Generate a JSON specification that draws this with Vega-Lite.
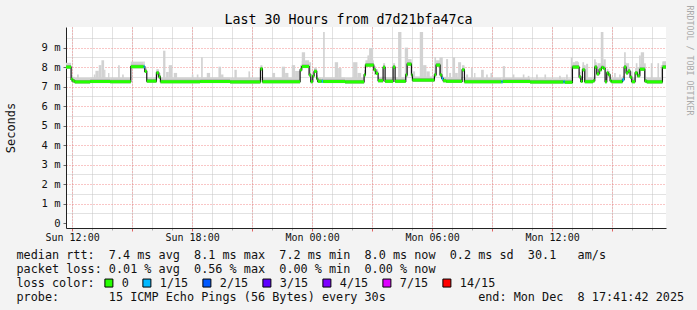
{
 "$schema": "https://vega.github.io/schema/vega-lite/v6.json",
 "width": 600, "height": 201,
 "autosize": "none",
 "padding": {"left": 66, "top": 27, "right": 31, "bottom": 82},
 "background": "#f3f3f3",
 "config": {
  "font": "DejaVu Sans Mono",
  "view": {"fill": "#ffffff", "stroke": null},
  "axis": {"labelFont": "DejaVu Sans Mono", "titleFont": "DejaVu Sans Mono", "titleFontWeight": "normal"}
 },
 "datasets": {
  "seg": [
   {"s": "2025-12-07T11:41:42Z", "e": "2025-12-07T11:57:00Z", "v": 8.0, "l": 7.92, "d": 8.1, "h": 8.22, "loss": "0"},
   {"s": "2025-12-07T11:57:00Z", "e": "2025-12-07T12:02:00Z", "v": 7.37, "l": 7.25, "d": 7.47, "h": 7.6, "loss": "0"},
   {"s": "2025-12-07T12:02:00Z", "e": "2025-12-07T12:08:00Z", "v": 7.29, "l": 7.21, "d": 7.39, "h": 7.5, "loss": "0"},
   {"s": "2025-12-07T12:08:00Z", "e": "2025-12-07T12:54:00Z", "v": 7.24, "l": 7.16, "d": 7.34, "h": 7.45, "loss": "0"},
   {"s": "2025-12-07T12:54:00Z", "e": "2025-12-07T13:54:00Z", "v": 7.26, "l": 7.18, "d": 7.36, "h": 7.47, "loss": "0"},
   {"s": "2025-12-07T13:54:00Z", "e": "2025-12-07T14:56:00Z", "v": 7.25, "l": 7.17, "d": 7.35, "h": 7.46, "loss": "0"},
   {"s": "2025-12-07T14:56:00Z", "e": "2025-12-07T15:35:00Z", "v": 8.02, "l": 7.94, "d": 8.12, "h": 8.28, "loss": "0"},
   {"s": "2025-12-07T15:35:00Z", "e": "2025-12-07T15:38:00Z", "v": 8.02, "l": 7.94, "d": 8.12, "h": 8.28, "loss": "1/15"},
   {"s": "2025-12-07T15:38:00Z", "e": "2025-12-07T15:44:00Z", "v": 7.78, "l": 7.7, "d": 7.88, "h": 8.0, "loss": "0"},
   {"s": "2025-12-07T15:44:00Z", "e": "2025-12-07T16:13:00Z", "v": 7.28, "l": 7.2, "d": 7.38, "h": 7.48, "loss": "0"},
   {"s": "2025-12-07T16:13:00Z", "e": "2025-12-07T16:20:00Z", "v": 7.7, "l": 7.6, "d": 7.8, "h": 7.9, "loss": "0"},
   {"s": "2025-12-07T16:20:00Z", "e": "2025-12-07T16:25:00Z", "v": 7.5, "l": 7.4, "d": 7.6, "h": 7.7, "loss": "0"},
   {"s": "2025-12-07T16:25:00Z", "e": "2025-12-07T18:24:00Z", "v": 7.25, "l": 7.17, "d": 7.35, "h": 7.46, "loss": "0"},
   {"s": "2025-12-07T18:24:00Z", "e": "2025-12-07T19:54:00Z", "v": 7.26, "l": 7.18, "d": 7.36, "h": 7.47, "loss": "0"},
   {"s": "2025-12-07T19:54:00Z", "e": "2025-12-07T21:25:00Z", "v": 7.24, "l": 7.16, "d": 7.34, "h": 7.45, "loss": "0"},
   {"s": "2025-12-07T21:25:00Z", "e": "2025-12-07T21:31:00Z", "v": 7.91, "l": 7.83, "d": 8.01, "h": 8.1, "loss": "0"},
   {"s": "2025-12-07T21:31:00Z", "e": "2025-12-07T23:24:00Z", "v": 7.25, "l": 7.17, "d": 7.35, "h": 7.46, "loss": "0"},
   {"s": "2025-12-07T23:24:00Z", "e": "2025-12-07T23:29:00Z", "v": 7.86, "l": 7.78, "d": 7.96, "h": 8.1, "loss": "0"},
   {"s": "2025-12-07T23:29:00Z", "e": "2025-12-07T23:51:00Z", "v": 8.03, "l": 7.95, "d": 8.13, "h": 8.3, "loss": "0"},
   {"s": "2025-12-07T23:51:00Z", "e": "2025-12-07T23:56:00Z", "v": 7.6, "l": 7.52, "d": 7.7, "h": 7.85, "loss": "0"},
   {"s": "2025-12-07T23:56:00Z", "e": "2025-12-08T00:02:00Z", "v": 7.25, "l": 7.17, "d": 7.35, "h": 7.5, "loss": "0"},
   {"s": "2025-12-08T00:02:00Z", "e": "2025-12-08T00:06:00Z", "v": 7.55, "l": 7.47, "d": 7.65, "h": 7.75, "loss": "0"},
   {"s": "2025-12-08T00:06:00Z", "e": "2025-12-08T00:14:00Z", "v": 7.78, "l": 7.7, "d": 7.88, "h": 7.98, "loss": "0"},
   {"s": "2025-12-08T00:14:00Z", "e": "2025-12-08T00:17:00Z", "v": 7.4, "l": 7.32, "d": 7.5, "h": 7.6, "loss": "0"},
   {"s": "2025-12-08T00:17:00Z", "e": "2025-12-08T00:29:00Z", "v": 7.27, "l": 7.19, "d": 7.37, "h": 7.47, "loss": "0"},
   {"s": "2025-12-08T00:29:00Z", "e": "2025-12-08T00:33:00Z", "v": 7.27, "l": 7.19, "d": 7.37, "h": 7.47, "loss": "1/15"},
   {"s": "2025-12-08T00:33:00Z", "e": "2025-12-08T01:39:00Z", "v": 7.26, "l": 7.18, "d": 7.36, "h": 7.47, "loss": "0"},
   {"s": "2025-12-08T01:39:00Z", "e": "2025-12-08T02:36:00Z", "v": 7.24, "l": 7.16, "d": 7.34, "h": 7.45, "loss": "0"},
   {"s": "2025-12-08T02:36:00Z", "e": "2025-12-08T02:40:00Z", "v": 7.6, "l": 7.52, "d": 7.7, "h": 7.85, "loss": "0"},
   {"s": "2025-12-08T02:40:00Z", "e": "2025-12-08T03:05:00Z", "v": 8.1, "l": 8.02, "d": 8.2, "h": 8.35, "loss": "0"},
   {"s": "2025-12-08T03:05:00Z", "e": "2025-12-08T03:11:00Z", "v": 7.86, "l": 7.78, "d": 7.96, "h": 8.05, "loss": "0"},
   {"s": "2025-12-08T03:11:00Z", "e": "2025-12-08T03:18:00Z", "v": 7.68, "l": 7.6, "d": 7.78, "h": 7.88, "loss": "0"},
   {"s": "2025-12-08T03:18:00Z", "e": "2025-12-08T03:33:00Z", "v": 7.3, "l": 7.22, "d": 7.4, "h": 7.5, "loss": "0"},
   {"s": "2025-12-08T03:33:00Z", "e": "2025-12-08T03:39:00Z", "v": 7.99, "l": 7.91, "d": 8.09, "h": 8.2, "loss": "0"},
   {"s": "2025-12-08T03:39:00Z", "e": "2025-12-08T04:03:00Z", "v": 7.27, "l": 7.19, "d": 7.37, "h": 7.48, "loss": "0"},
   {"s": "2025-12-08T04:03:00Z", "e": "2025-12-08T04:09:00Z", "v": 8.0, "l": 7.92, "d": 8.1, "h": 8.2, "loss": "0"},
   {"s": "2025-12-08T04:09:00Z", "e": "2025-12-08T04:41:00Z", "v": 7.27, "l": 7.19, "d": 7.37, "h": 7.48, "loss": "0"},
   {"s": "2025-12-08T04:41:00Z", "e": "2025-12-08T04:45:00Z", "v": 7.6, "l": 7.52, "d": 7.7, "h": 7.85, "loss": "0"},
   {"s": "2025-12-08T04:45:00Z", "e": "2025-12-08T04:58:00Z", "v": 8.15, "l": 8.07, "d": 8.25, "h": 8.4, "loss": "0"},
   {"s": "2025-12-08T04:58:00Z", "e": "2025-12-08T05:01:00Z", "v": 7.6, "l": 7.52, "d": 7.7, "h": 7.85, "loss": "0"},
   {"s": "2025-12-08T05:01:00Z", "e": "2025-12-08T06:07:00Z", "v": 7.33, "l": 7.25, "d": 7.43, "h": 7.52, "loss": "0"},
   {"s": "2025-12-08T06:07:00Z", "e": "2025-12-08T06:12:00Z", "v": 7.6, "l": 7.52, "d": 7.7, "h": 7.85, "loss": "0"},
   {"s": "2025-12-08T06:12:00Z", "e": "2025-12-08T06:24:00Z", "v": 8.1, "l": 8.02, "d": 8.2, "h": 8.35, "loss": "0"},
   {"s": "2025-12-08T06:24:00Z", "e": "2025-12-08T06:29:00Z", "v": 7.6, "l": 7.52, "d": 7.7, "h": 7.85, "loss": "0"},
   {"s": "2025-12-08T06:29:00Z", "e": "2025-12-08T06:33:00Z", "v": 7.42, "l": 7.34, "d": 7.52, "h": 7.62, "loss": "1/15"},
   {"s": "2025-12-08T06:33:00Z", "e": "2025-12-08T06:42:00Z", "v": 7.3, "l": 7.22, "d": 7.4, "h": 7.5, "loss": "0"},
   {"s": "2025-12-08T06:42:00Z", "e": "2025-12-08T07:30:00Z", "v": 7.27, "l": 7.19, "d": 7.37, "h": 7.48, "loss": "0"},
   {"s": "2025-12-08T07:30:00Z", "e": "2025-12-08T07:37:00Z", "v": 7.86, "l": 7.78, "d": 7.96, "h": 8.05, "loss": "0"},
   {"s": "2025-12-08T07:37:00Z", "e": "2025-12-08T09:28:00Z", "v": 7.25, "l": 7.17, "d": 7.35, "h": 7.45, "loss": "0"},
   {"s": "2025-12-08T09:28:00Z", "e": "2025-12-08T09:32:00Z", "v": 7.25, "l": 7.17, "d": 7.35, "h": 7.45, "loss": "1/15"},
   {"s": "2025-12-08T09:32:00Z", "e": "2025-12-08T10:54:00Z", "v": 7.26, "l": 7.18, "d": 7.36, "h": 7.45, "loss": "0"},
   {"s": "2025-12-08T10:54:00Z", "e": "2025-12-08T12:34:00Z", "v": 7.24, "l": 7.16, "d": 7.34, "h": 7.43, "loss": "0"},
   {"s": "2025-12-08T12:34:00Z", "e": "2025-12-08T12:38:00Z", "v": 7.25, "l": 7.17, "d": 7.35, "h": 7.45, "loss": "1/15"},
   {"s": "2025-12-08T12:38:00Z", "e": "2025-12-08T13:01:00Z", "v": 7.22, "l": 7.14, "d": 7.32, "h": 7.42, "loss": "0"},
   {"s": "2025-12-08T13:01:00Z", "e": "2025-12-08T13:21:00Z", "v": 8.0, "l": 7.92, "d": 8.1, "h": 8.25, "loss": "0"},
   {"s": "2025-12-08T13:21:00Z", "e": "2025-12-08T13:26:00Z", "v": 7.5, "l": 7.42, "d": 7.6, "h": 7.75, "loss": "0"},
   {"s": "2025-12-08T13:26:00Z", "e": "2025-12-08T13:31:00Z", "v": 7.27, "l": 7.19, "d": 7.37, "h": 7.5, "loss": "0"},
   {"s": "2025-12-08T13:31:00Z", "e": "2025-12-08T13:38:00Z", "v": 7.86, "l": 7.78, "d": 7.96, "h": 8.1, "loss": "0"},
   {"s": "2025-12-08T13:38:00Z", "e": "2025-12-08T14:03:00Z", "v": 7.25, "l": 7.17, "d": 7.35, "h": 7.47, "loss": "0"},
   {"s": "2025-12-08T14:03:00Z", "e": "2025-12-08T14:08:00Z", "v": 7.3, "l": 7.22, "d": 7.4, "h": 7.5, "loss": "0"},
   {"s": "2025-12-08T14:08:00Z", "e": "2025-12-08T14:14:00Z", "v": 8.0, "l": 7.92, "d": 8.1, "h": 8.25, "loss": "0"},
   {"s": "2025-12-08T14:14:00Z", "e": "2025-12-08T14:21:00Z", "v": 7.65, "l": 7.57, "d": 7.75, "h": 7.9, "loss": "0"},
   {"s": "2025-12-08T14:21:00Z", "e": "2025-12-08T14:28:00Z", "v": 7.86, "l": 7.78, "d": 7.96, "h": 8.1, "loss": "0"},
   {"s": "2025-12-08T14:28:00Z", "e": "2025-12-08T14:34:00Z", "v": 7.98, "l": 7.9, "d": 8.08, "h": 8.2, "loss": "0"},
   {"s": "2025-12-08T14:34:00Z", "e": "2025-12-08T14:39:00Z", "v": 7.93, "l": 7.85, "d": 8.03, "h": 8.15, "loss": "0"},
   {"s": "2025-12-08T14:39:00Z", "e": "2025-12-08T14:44:00Z", "v": 7.25, "l": 7.17, "d": 7.35, "h": 7.47, "loss": "0"},
   {"s": "2025-12-08T14:44:00Z", "e": "2025-12-08T14:49:00Z", "v": 7.7, "l": 7.62, "d": 7.8, "h": 7.9, "loss": "0"},
   {"s": "2025-12-08T14:49:00Z", "e": "2025-12-08T14:54:00Z", "v": 7.6, "l": 7.52, "d": 7.7, "h": 7.8, "loss": "0"},
   {"s": "2025-12-08T14:54:00Z", "e": "2025-12-08T14:58:00Z", "v": 7.3, "l": 7.22, "d": 7.4, "h": 7.5, "loss": "0"},
   {"s": "2025-12-08T14:58:00Z", "e": "2025-12-08T15:31:00Z", "v": 7.25, "l": 7.17, "d": 7.35, "h": 7.46, "loss": "0"},
   {"s": "2025-12-08T15:31:00Z", "e": "2025-12-08T15:36:00Z", "v": 7.35, "l": 7.27, "d": 7.45, "h": 7.55, "loss": "1/15"},
   {"s": "2025-12-08T15:36:00Z", "e": "2025-12-08T15:42:00Z", "v": 8.0, "l": 7.92, "d": 8.1, "h": 8.25, "loss": "0"},
   {"s": "2025-12-08T15:42:00Z", "e": "2025-12-08T15:48:00Z", "v": 7.7, "l": 7.62, "d": 7.8, "h": 7.95, "loss": "0"},
   {"s": "2025-12-08T15:48:00Z", "e": "2025-12-08T15:54:00Z", "v": 7.8, "l": 7.72, "d": 7.9, "h": 8.0, "loss": "0"},
   {"s": "2025-12-08T15:54:00Z", "e": "2025-12-08T15:59:00Z", "v": 7.48, "l": 7.4, "d": 7.58, "h": 7.7, "loss": "0"},
   {"s": "2025-12-08T15:59:00Z", "e": "2025-12-08T16:09:00Z", "v": 7.25, "l": 7.17, "d": 7.35, "h": 7.46, "loss": "0"},
   {"s": "2025-12-08T16:09:00Z", "e": "2025-12-08T16:16:00Z", "v": 7.7, "l": 7.62, "d": 7.8, "h": 7.95, "loss": "0"},
   {"s": "2025-12-08T16:16:00Z", "e": "2025-12-08T16:23:00Z", "v": 7.55, "l": 7.47, "d": 7.65, "h": 7.8, "loss": "0"},
   {"s": "2025-12-08T16:23:00Z", "e": "2025-12-08T16:38:00Z", "v": 7.89, "l": 7.81, "d": 7.99, "h": 8.15, "loss": "0"},
   {"s": "2025-12-08T16:38:00Z", "e": "2025-12-08T16:44:00Z", "v": 7.28, "l": 7.2, "d": 7.38, "h": 7.5, "loss": "0"},
   {"s": "2025-12-08T16:44:00Z", "e": "2025-12-08T17:31:00Z", "v": 7.24, "l": 7.16, "d": 7.34, "h": 7.46, "loss": "0"},
   {"s": "2025-12-08T17:31:00Z", "e": "2025-12-08T17:41:42Z", "v": 8.0, "l": 7.92, "d": 8.1, "h": 8.25, "loss": "0"}
  ],
  "spk": [
   {"s": "2025-12-07T12:15:00Z", "e": "2025-12-07T12:20:00Z", "lo": 7.25, "hi": 7.62},
   {"s": "2025-12-07T13:05:00Z", "e": "2025-12-07T13:10:00Z", "lo": 7.25, "hi": 7.62},
   {"s": "2025-12-07T13:10:00Z", "e": "2025-12-07T13:20:00Z", "lo": 7.25, "hi": 7.81},
   {"s": "2025-12-07T13:20:00Z", "e": "2025-12-07T13:28:00Z", "lo": 7.25, "hi": 8.1},
   {"s": "2025-12-07T13:28:00Z", "e": "2025-12-07T13:36:00Z", "lo": 7.25, "hi": 8.35},
   {"s": "2025-12-07T13:36:00Z", "e": "2025-12-07T13:40:00Z", "lo": 7.25, "hi": 7.86},
   {"s": "2025-12-07T13:48:00Z", "e": "2025-12-07T13:52:00Z", "lo": 7.25, "hi": 7.7},
   {"s": "2025-12-07T14:18:00Z", "e": "2025-12-07T14:23:00Z", "lo": 7.25, "hi": 8.1},
   {"s": "2025-12-07T14:30:00Z", "e": "2025-12-07T14:35:00Z", "lo": 7.25, "hi": 7.62},
   {"s": "2025-12-07T16:13:00Z", "e": "2025-12-07T16:21:00Z", "lo": 7.5, "hi": 7.85},
   {"s": "2025-12-07T16:33:00Z", "e": "2025-12-07T16:40:00Z", "lo": 7.25, "hi": 8.84},
   {"s": "2025-12-07T16:42:00Z", "e": "2025-12-07T16:50:00Z", "lo": 7.25, "hi": 7.75},
   {"s": "2025-12-07T16:50:00Z", "e": "2025-12-07T17:00:00Z", "lo": 7.25, "hi": 8.1},
   {"s": "2025-12-07T17:05:00Z", "e": "2025-12-07T17:15:00Z", "lo": 7.25, "hi": 7.7},
   {"s": "2025-12-07T17:59:00Z", "e": "2025-12-07T18:04:00Z", "lo": 7.25, "hi": 7.62},
   {"s": "2025-12-07T18:14:00Z", "e": "2025-12-07T18:19:00Z", "lo": 7.25, "hi": 7.62},
   {"s": "2025-12-07T18:27:00Z", "e": "2025-12-07T18:32:00Z", "lo": 7.25, "hi": 8.51},
   {"s": "2025-12-07T18:44:00Z", "e": "2025-12-07T18:54:00Z", "lo": 7.25, "hi": 7.7},
   {"s": "2025-12-07T19:19:00Z", "e": "2025-12-07T19:27:00Z", "lo": 7.25, "hi": 8.02},
   {"s": "2025-12-07T19:27:00Z", "e": "2025-12-07T19:34:00Z", "lo": 7.25, "hi": 7.62},
   {"s": "2025-12-07T20:07:00Z", "e": "2025-12-07T20:14:00Z", "lo": 7.25, "hi": 7.86},
   {"s": "2025-12-07T20:49:00Z", "e": "2025-12-07T20:54:00Z", "lo": 7.25, "hi": 7.78},
   {"s": "2025-12-07T22:01:00Z", "e": "2025-12-07T22:09:00Z", "lo": 7.25, "hi": 7.7},
   {"s": "2025-12-07T22:29:00Z", "e": "2025-12-07T22:39:00Z", "lo": 7.25, "hi": 8.02},
   {"s": "2025-12-07T22:39:00Z", "e": "2025-12-07T22:49:00Z", "lo": 7.25, "hi": 7.7},
   {"s": "2025-12-07T22:59:00Z", "e": "2025-12-07T23:09:00Z", "lo": 7.25, "hi": 8.1},
   {"s": "2025-12-07T23:09:00Z", "e": "2025-12-07T23:24:00Z", "lo": 7.25, "hi": 7.8},
   {"s": "2025-12-07T23:29:00Z", "e": "2025-12-07T23:39:00Z", "lo": 8.0, "hi": 8.76},
   {"s": "2025-12-07T23:39:00Z", "e": "2025-12-07T23:51:00Z", "lo": 8.0, "hi": 8.35},
   {"s": "2025-12-07T23:51:00Z", "e": "2025-12-07T23:57:00Z", "lo": 7.6, "hi": 8.25},
   {"s": "2025-12-08T00:33:00Z", "e": "2025-12-08T00:38:00Z", "lo": 7.25, "hi": 9.8},
   {"s": "2025-12-08T01:08:00Z", "e": "2025-12-08T01:18:00Z", "lo": 7.25, "hi": 8.25},
   {"s": "2025-12-08T01:18:00Z", "e": "2025-12-08T01:28:00Z", "lo": 7.25, "hi": 7.95},
   {"s": "2025-12-08T02:03:00Z", "e": "2025-12-08T02:16:00Z", "lo": 7.25, "hi": 8.25},
   {"s": "2025-12-08T02:16:00Z", "e": "2025-12-08T02:27:00Z", "lo": 7.25, "hi": 7.7},
   {"s": "2025-12-08T02:46:00Z", "e": "2025-12-08T02:51:00Z", "lo": 8.1, "hi": 8.6},
   {"s": "2025-12-08T02:51:00Z", "e": "2025-12-08T03:03:00Z", "lo": 8.1, "hi": 8.98},
   {"s": "2025-12-08T03:06:00Z", "e": "2025-12-08T03:18:00Z", "lo": 7.6, "hi": 7.86},
   {"s": "2025-12-08T04:18:00Z", "e": "2025-12-08T04:28:00Z", "lo": 7.25, "hi": 9.8},
   {"s": "2025-12-08T04:38:00Z", "e": "2025-12-08T04:48:00Z", "lo": 7.5, "hi": 9.0},
   {"s": "2025-12-08T04:48:00Z", "e": "2025-12-08T04:58:00Z", "lo": 8.1, "hi": 8.4},
   {"s": "2025-12-08T05:03:00Z", "e": "2025-12-08T05:09:00Z", "lo": 7.3, "hi": 7.78},
   {"s": "2025-12-08T05:23:00Z", "e": "2025-12-08T05:33:00Z", "lo": 7.3, "hi": 9.8},
   {"s": "2025-12-08T05:33:00Z", "e": "2025-12-08T05:43:00Z", "lo": 7.3, "hi": 8.1},
   {"s": "2025-12-08T05:43:00Z", "e": "2025-12-08T05:53:00Z", "lo": 7.3, "hi": 7.78},
   {"s": "2025-12-08T06:07:00Z", "e": "2025-12-08T06:12:00Z", "lo": 7.6, "hi": 8.51},
   {"s": "2025-12-08T06:22:00Z", "e": "2025-12-08T06:32:00Z", "lo": 7.6, "hi": 8.5},
   {"s": "2025-12-08T06:42:00Z", "e": "2025-12-08T06:48:00Z", "lo": 7.25, "hi": 8.41},
   {"s": "2025-12-08T06:51:00Z", "e": "2025-12-08T06:57:00Z", "lo": 7.25, "hi": 7.7},
   {"s": "2025-12-08T07:02:00Z", "e": "2025-12-08T07:09:00Z", "lo": 7.25, "hi": 8.5},
   {"s": "2025-12-08T07:09:00Z", "e": "2025-12-08T07:17:00Z", "lo": 7.25, "hi": 7.7},
   {"s": "2025-12-08T07:18:00Z", "e": "2025-12-08T07:27:00Z", "lo": 7.25, "hi": 8.25},
   {"s": "2025-12-08T07:30:00Z", "e": "2025-12-08T07:37:00Z", "lo": 7.86, "hi": 8.1},
   {"s": "2025-12-08T07:42:00Z", "e": "2025-12-08T07:48:00Z", "lo": 7.25, "hi": 7.62},
   {"s": "2025-12-08T07:57:00Z", "e": "2025-12-08T08:02:00Z", "lo": 7.25, "hi": 7.95},
   {"s": "2025-12-08T08:06:00Z", "e": "2025-12-08T08:10:00Z", "lo": 7.25, "hi": 7.7},
   {"s": "2025-12-08T08:27:00Z", "e": "2025-12-08T08:35:00Z", "lo": 7.25, "hi": 7.86},
   {"s": "2025-12-08T08:42:00Z", "e": "2025-12-08T08:47:00Z", "lo": 7.25, "hi": 7.62},
   {"s": "2025-12-08T08:55:00Z", "e": "2025-12-08T09:00:00Z", "lo": 7.25, "hi": 7.7},
   {"s": "2025-12-08T09:32:00Z", "e": "2025-12-08T09:39:00Z", "lo": 7.25, "hi": 8.05},
   {"s": "2025-12-08T10:02:00Z", "e": "2025-12-08T10:07:00Z", "lo": 7.25, "hi": 7.62},
   {"s": "2025-12-08T10:32:00Z", "e": "2025-12-08T10:37:00Z", "lo": 7.25, "hi": 7.62},
   {"s": "2025-12-08T10:47:00Z", "e": "2025-12-08T10:52:00Z", "lo": 7.25, "hi": 7.55},
   {"s": "2025-12-08T11:12:00Z", "e": "2025-12-08T11:17:00Z", "lo": 7.25, "hi": 7.62},
   {"s": "2025-12-08T11:37:00Z", "e": "2025-12-08T11:42:00Z", "lo": 7.25, "hi": 7.62},
   {"s": "2025-12-08T12:21:00Z", "e": "2025-12-08T12:26:00Z", "lo": 7.25, "hi": 7.55},
   {"s": "2025-12-08T12:42:00Z", "e": "2025-12-08T12:47:00Z", "lo": 7.25, "hi": 7.62},
   {"s": "2025-12-08T12:56:00Z", "e": "2025-12-08T13:01:00Z", "lo": 7.25, "hi": 8.5},
   {"s": "2025-12-08T13:09:00Z", "e": "2025-12-08T13:18:00Z", "lo": 8.0, "hi": 8.3},
   {"s": "2025-12-08T13:31:00Z", "e": "2025-12-08T13:36:00Z", "lo": 7.86, "hi": 8.25},
   {"s": "2025-12-08T13:36:00Z", "e": "2025-12-08T13:41:00Z", "lo": 7.25, "hi": 8.1},
   {"s": "2025-12-08T13:42:00Z", "e": "2025-12-08T13:48:00Z", "lo": 7.25, "hi": 8.17},
   {"s": "2025-12-08T14:06:00Z", "e": "2025-12-08T14:11:00Z", "lo": 8.0, "hi": 8.4},
   {"s": "2025-12-08T14:16:00Z", "e": "2025-12-08T14:26:00Z", "lo": 7.65, "hi": 8.2},
   {"s": "2025-12-08T14:26:00Z", "e": "2025-12-08T14:34:00Z", "lo": 7.9, "hi": 9.8},
   {"s": "2025-12-08T14:34:00Z", "e": "2025-12-08T14:41:00Z", "lo": 7.9, "hi": 8.4},
   {"s": "2025-12-08T14:46:00Z", "e": "2025-12-08T14:51:00Z", "lo": 7.6, "hi": 7.78},
   {"s": "2025-12-08T15:06:00Z", "e": "2025-12-08T15:11:00Z", "lo": 7.25, "hi": 7.7},
   {"s": "2025-12-08T15:21:00Z", "e": "2025-12-08T15:26:00Z", "lo": 7.25, "hi": 7.62},
   {"s": "2025-12-08T15:36:00Z", "e": "2025-12-08T15:41:00Z", "lo": 8.0, "hi": 8.76},
   {"s": "2025-12-08T15:41:00Z", "e": "2025-12-08T15:51:00Z", "lo": 7.7, "hi": 8.2},
   {"s": "2025-12-08T15:56:00Z", "e": "2025-12-08T16:01:00Z", "lo": 7.25, "hi": 7.78},
   {"s": "2025-12-08T16:11:00Z", "e": "2025-12-08T16:16:00Z", "lo": 7.7, "hi": 8.2},
   {"s": "2025-12-08T16:16:00Z", "e": "2025-12-08T16:21:00Z", "lo": 7.55, "hi": 8.0},
   {"s": "2025-12-08T16:21:00Z", "e": "2025-12-08T16:26:00Z", "lo": 7.55, "hi": 8.6},
   {"s": "2025-12-08T16:26:00Z", "e": "2025-12-08T16:36:00Z", "lo": 7.89, "hi": 8.76},
   {"s": "2025-12-08T16:36:00Z", "e": "2025-12-08T16:41:00Z", "lo": 7.25, "hi": 8.2},
   {"s": "2025-12-08T16:56:00Z", "e": "2025-12-08T17:01:00Z", "lo": 7.25, "hi": 8.2},
   {"s": "2025-12-08T17:16:00Z", "e": "2025-12-08T17:21:00Z", "lo": 7.25, "hi": 8.2},
   {"s": "2025-12-08T17:26:00Z", "e": "2025-12-08T17:31:00Z", "lo": 7.25, "hi": 8.1},
   {"s": "2025-12-08T17:31:00Z", "e": "2025-12-08T17:41:42Z", "lo": 8.0, "hi": 8.3}
  ]
 },
 "layer": [
  {
   "data": {"name": "spk"},
   "mark": {"type": "rect", "color": "#d2d2d2", "clip": true},
   "encoding": {
    "x": {"field": "s", "type": "temporal",
     "scale": {"type": "utc", "domain": [{"year": 2025, "month": 12, "date": 7, "hours": 11, "minutes": 41, "seconds": 42, "utc": true}, {"year": 2025, "month": 12, "date": 8, "hours": 17, "minutes": 41, "seconds": 42, "utc": true}]},
     "axis": {"orient": "bottom", "tickCount": 30, "grid": true, "gridColor": "#c4c4c4", "gridDash": [1, 1], "labels": false, "ticks": true, "tickColor": "#b0b0b0", "tickSize": 2, "domain": false, "title": null}},
    "x2": {"field": "e"},
    "y": {"field": "lo", "type": "quantitative", "scale": {"domain": [0, 9.8], "nice": false, "zero": false},
     "axis": {"orient": "left", "values": [0.5, 1.5, 2.5, 3.5, 4.5, 5.5, 6.5, 7.5, 8.5, 9.5], "grid": true, "gridColor": "#c4c4c4", "gridDash": [1, 1], "labels": false, "ticks": false, "domain": false, "title": null}},
    "y2": {"field": "hi"}
   }
  },
  {
   "data": {"name": "seg"},
   "mark": {"type": "rect", "color": "#d2d2d2"},
   "encoding": {
    "x": {"field": "s", "type": "temporal",
     "axis": {"orient": "bottom", "tickCount": 10, "grid": true, "gridColor": "#f28c8c", "gridDash": [1, 2], "labels": false, "ticks": true, "tickColor": "#e06060", "tickSize": 3, "domain": false, "title": null}},
    "x2": {"field": "e"},
    "y": {"field": "l", "type": "quantitative",
     "axis": {"orient": "left", "values": [1, 2, 3, 4, 5, 6, 7, 8, 9], "grid": true, "gridColor": "#f28c8c", "gridDash": [1, 2], "labels": false, "ticks": false, "domain": false, "title": null}},
    "y2": {"field": "h"}
   }
  },
  {
   "data": {"name": "seg"},
   "mark": {"type": "rect", "color": "#9a9a9a"},
   "encoding": {
    "x": {"field": "s", "type": "temporal",
     "axis": {"orient": "bottom", "tickCount": 5, "format": "%a %H:%M", "grid": false, "ticks": false, "labels": true, "labelFontSize": 10, "labelColor": "#111", "labelPadding": 4, "domain": true, "domainColor": "#222", "domainWidth": 1,
      "title": ["median rtt:\u00a0\u00a07.4\u00a0ms\u00a0avg\u00a0\u00a08.1\u00a0ms\u00a0max\u00a0\u00a07.2\u00a0ms\u00a0min\u00a0\u00a08.0\u00a0ms\u00a0now\u00a0\u00a00.2\u00a0ms\u00a0sd\u00a0\u00a030.1\u00a0\u00a0\u00a0am/s",
                "packet\u00a0loss:\u00a00.01\u00a0%\u00a0avg\u00a0\u00a00.56\u00a0%\u00a0max\u00a0\u00a00.00\u00a0%\u00a0min\u00a0\u00a00.00\u00a0%\u00a0now",
                "loss\u00a0color:",
                "probe:\u00a0\u00a0\u00a0\u00a0\u00a0\u00a0\u00a015\u00a0ICMP\u00a0Echo\u00a0Pings\u00a0(56\u00a0Bytes)\u00a0every\u00a030s\u00a0\u00a0\u00a0\u00a0\u00a0\u00a0\u00a0\u00a0\u00a0\u00a0\u00a0\u00a0\u00a0end:\u00a0Mon\u00a0Dec\u00a0\u00a08\u00a017:41:42\u00a02025"],
      "titleFontSize": 11.8, "titleColor": "#111", "titleAlign": "left", "titleBaseline": "alphabetic", "titleX": -50, "titleY": 30, "titleLineHeight": 14}},
    "x2": {"field": "e"},
    "y": {"field": "l", "type": "quantitative",
     "axis": {"orient": "left", "values": [0, 1, 2, 3, 4, 5, 6, 7, 8, 9], "grid": false, "labels": true, "labelExpr": "datum.value == 0 ? '0' : datum.value + ' m'", "labelFontSize": 10.5, "labelColor": "#111", "labelPadding": 3, "ticks": true, "tickSize": 3, "tickColor": "#666", "domain": true, "domainColor": "#222",
      "title": "Seconds", "titleFontSize": 12, "titleColor": "#111", "titleX": -56, "titleY": 100.5, "titleAngle": -90, "titleAlign": "center", "titleBaseline": "middle"}},
    "y2": {"field": "d"}
   }
  },
  {
   "data": {"name": "seg"},
   "mark": {"type": "line", "interpolate": "step-after", "color": "#111", "strokeWidth": 1.2},
   "encoding": {
    "x": {"field": "s", "type": "temporal",
     "axis": {"orient": "top", "labels": false, "ticks": false, "domain": false, "grid": false, "title": "Last 30 Hours from d7d21bfa47ca", "titleFontSize": 13.3, "titleColor": "#000", "titleX": 282, "titleY": -4, "titleAlign": "center", "titleBaseline": "alphabetic"}},
    "y": {"field": "v", "type": "quantitative", "axis": null}
   }
  },
  {
   "data": {"name": "seg"},
   "mark": {"type": "bar", "orient": "horizontal", "size": 3},
   "encoding": {
    "x": {"field": "s", "type": "temporal", "axis": null},
    "x2": {"field": "e"},
    "y": {"field": "v", "type": "quantitative",
     "axis": {"orient": "right", "title": "RRDTOOL / TOBI OETIKER", "titleAngle": 90, "titleX": 22, "titleY": 33, "titleFontSize": 8.3, "titleColor": "#aaaaaa", "titleAlign": "center", "titleBaseline": "middle", "labels": false, "ticks": false, "domain": false, "grid": false}},
    "color": {"field": "loss", "type": "nominal",
     "scale": {"domain": ["0", "1/15", "2/15", "3/15", "4/15", "7/15", "14/15"], "range": ["#26ff00", "#00b8ff", "#0059ff", "#5e00ff", "#7e00ff", "#dd00ff", "#ff0000"]},
     "legend": {"orient": "none", "legendX": 37, "legendY": 250, "direction": "horizontal", "title": null, "symbolType": "square", "symbolSize": 64, "symbolStrokeColor": "#000", "symbolStrokeWidth": 1, "symbolOpacity": 1, "labelFont": "DejaVu Sans Mono", "labelFontSize": 11.8, "labelColor": "#111", "labelOffset": 7, "columnPadding": 11}}
   }
  }
 ],
 "resolve": {"axis": {"x": "independent", "y": "independent"}}
}
